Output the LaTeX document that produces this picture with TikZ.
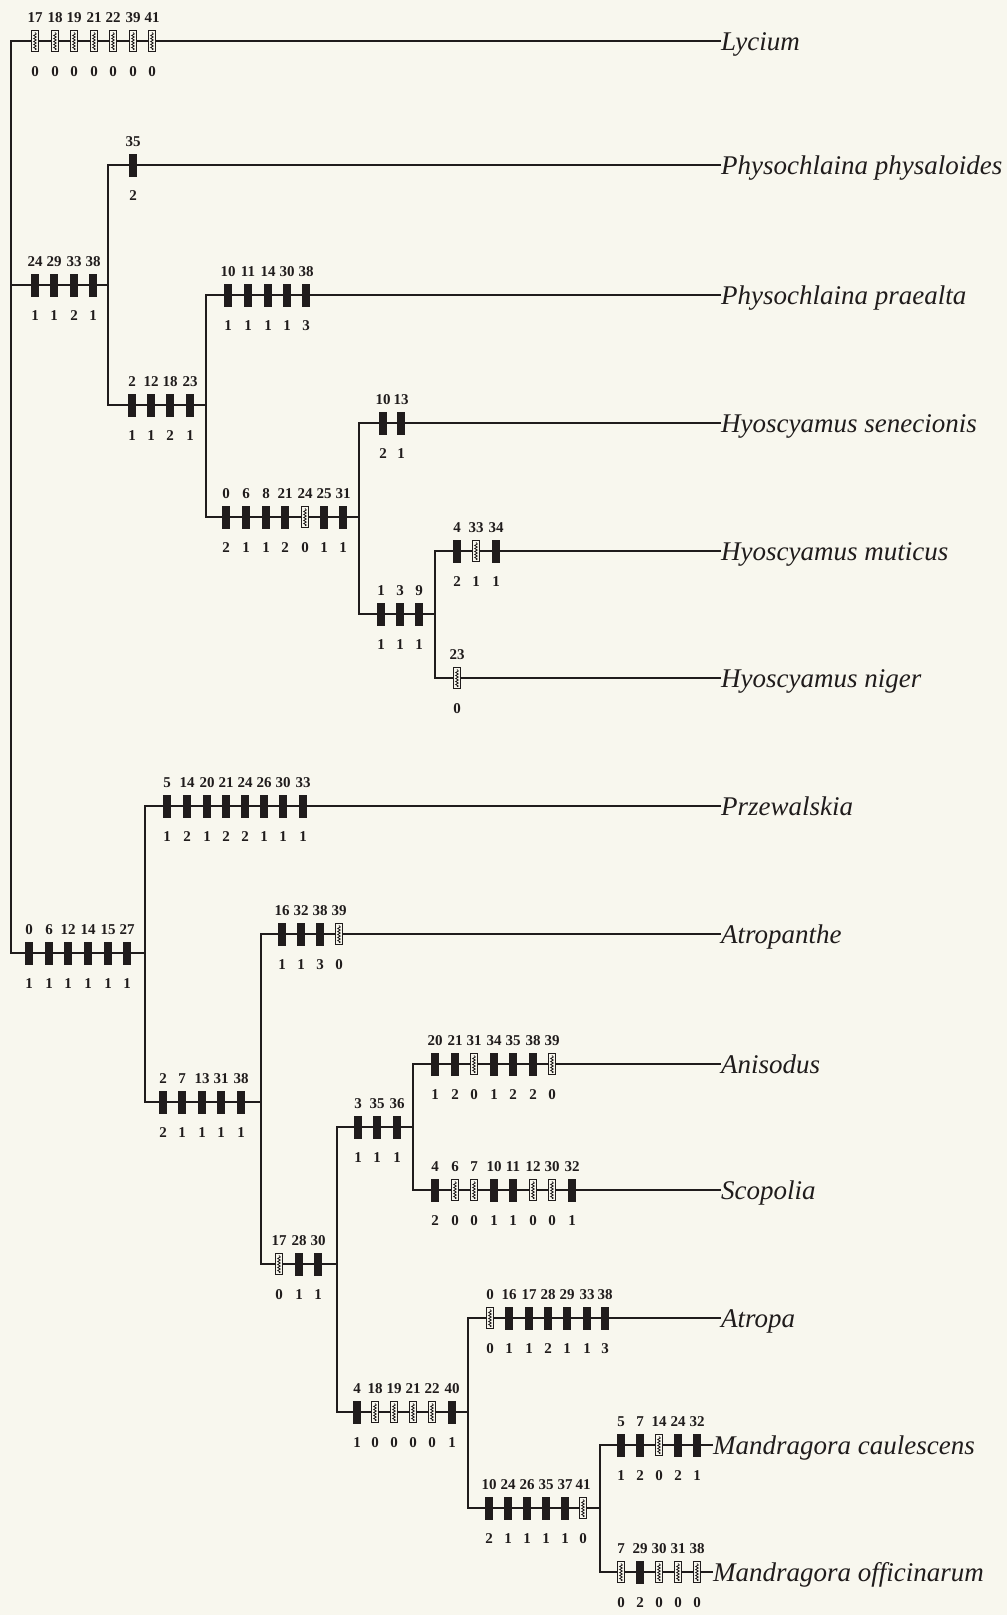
\documentclass[tikz,border=0pt]{standalone}
\usepackage{fontspec}
\setmainfont{Liberation Serif}
\definecolor{bgc}{RGB}{248,247,238}
\definecolor{inkc}{RGB}{32,28,28}
\newcommand\branchmarks[2]{\foreach \px/\pn/\ps/\pt in {#2} {\pic at (\px,#1) {mark={\pn}{\ps}{\pt}};}}
\tikzset{
  branch/.style={draw=inkc, line width=2.8pt, line join=miter},
  filledmark/.style={fill=inkc},
  hatchmark/.style={fill=bgc, draw=inkc, line width=1.1pt},
  squiggle/.style={draw=inkc, line width=0.8pt},
  charnum/.style={font=\fontsize{15}{15}\selectfont\bfseries, text=inkc, inner sep=0},
  statenum/.style={font=\fontsize{15}{15}\selectfont\bfseries, text=inkc, inner sep=0},
  taxon/.style={font=\fontsize{27}{27}\selectfont\itshape, text=inkc, anchor=west, inner sep=0, text height=19pt, text depth=1pt},
  pics/mark/.style n args={3}{code={
    \ifnum#3=1
      \fill[filledmark] (-3.75,-11.5) rectangle (3.75,11.5);
    \else
      \filldraw[hatchmark] (-3.4,-10.5) rectangle (3.4,10.5);
      \draw[squiggle] (0,-8.5) -- (1.3,-7) -- (-1.3,-5.5) -- (1.3,-4) -- (-1.3,-2.5) -- (1.3,-1) -- (-1.3,0.5) -- (1.3,2) -- (-1.3,3.5) -- (1.3,5) -- (-1.3,6.5) -- (1.3,8) -- (0,8.8);
    \fi
    \node[charnum] at (0,-23) {#1};
    \node[statenum] at (0,31) {#2};
  }}
}
\begin{document}
\begin{tikzpicture}[x=1pt,y=-1pt]
\fill[bgc] (0,0) rectangle (1007,1615);
\useasboundingbox (0,0) rectangle (1007,1615);
% taxa
\node[taxon] (lyc) at (721,41) {Lycium};
\node[taxon] (phys) at (721,165) {Physochlaina physaloides};
\node[taxon] (prae) at (721,295) {Physochlaina praealta};
\node[taxon] (sene) at (721,423) {Hyoscyamus senecionis};
\node[taxon] (muti) at (721,551) {Hyoscyamus muticus};
\node[taxon] (nige) at (721,678) {Hyoscyamus niger};
\node[taxon] (prze) at (721,806) {Przewalskia};
\node[taxon] (atth) at (721,934) {Atropanthe};
\node[taxon] (anis) at (721,1064) {Anisodus};
\node[taxon] (scop) at (721,1190) {Scopolia};
\node[taxon] (atro) at (721,1318) {Atropa};
\node[taxon] (mcau) at (713,1445) {Mandragora caulescens};
\node[taxon] (moff) at (713,1572) {Mandragora officinarum};
% internal nodes (x of vertical line, y of own branch)
\coordinate (R) at (11,41);
\coordinate (A) at (108,285);
\coordinate (A2) at (206,405);
\coordinate (A3) at (359,517);
\coordinate (A4) at (435,614);
\coordinate (B) at (145,953);
\coordinate (B2) at (261,1102);
\coordinate (B3) at (337,1264);
\coordinate (B4) at (413,1127);
\coordinate (B5) at (468,1412);
\coordinate (B6) at (600,1508);
% branches
\draw[branch] (lyc.west) -- (R |- lyc.west) -- (R |- B) -- (B);
\draw[branch] (R |- A) -- (A);
\draw[branch] (phys.west) -- (A |- phys.west) -- (A |- A2) -- (A2);
\draw[branch] (prae.west) -- (A2 |- prae.west) -- (A2 |- A3) -- (A3);
\draw[branch] (sene.west) -- (A3 |- sene.west) -- (A3 |- A4) -- (A4);
\draw[branch] (muti.west) -- (A4 |- muti.west) -- (A4 |- nige.west) -- (nige.west);
\draw[branch] (prze.west) -- (B |- prze.west) -- (B |- B2) -- (B2);
\draw[branch] (atth.west) -- (B2 |- atth.west) -- (B2 |- B3) -- (B3);
\draw[branch] (B4) -- (B3 |- B4) -- (B3 |- B5) -- (B5);
\draw[branch] (anis.west) -- (B4 |- anis.west) -- (B4 |- scop.west) -- (scop.west);
\draw[branch] (atro.west) -- (B5 |- atro.west) -- (B5 |- B6) -- (B6);
\draw[branch] (mcau.west) -- (B6 |- mcau.west) -- (B6 |- moff.west) -- (moff.west);
% character marks: x/character/state/type (1 filled, 0 reversal)
\branchmarks{41}{35/17/0/0, 55/18/0/0, 74/19/0/0, 94/21/0/0, 113/22/0/0, 133/39/0/0, 152/41/0/0}
\branchmarks{285}{35/24/1/1, 54/29/1/1, 74/33/2/1, 93/38/1/1}
\branchmarks{165}{133/35/2/1}
\branchmarks{405}{132/2/1/1, 151/12/1/1, 170/18/2/1, 190/23/1/1}
\branchmarks{295}{228/10/1/1, 248/11/1/1, 268/14/1/1, 287/30/1/1, 306/38/3/1}
\branchmarks{517}{226/0/2/1, 246/6/1/1, 266/8/1/1, 285/21/2/1, 305/24/0/0, 324/25/1/1, 343/31/1/1}
\branchmarks{423}{383/10/2/1, 401/13/1/1}
\branchmarks{614}{381/1/1/1, 400/3/1/1, 419/9/1/1}
\branchmarks{551}{457/4/2/1, 476/33/1/0, 496/34/1/1}
\branchmarks{678}{457/23/0/0}
\branchmarks{953}{29/0/1/1, 49/6/1/1, 68/12/1/1, 88/14/1/1, 108/15/1/1, 127/27/1/1}
\branchmarks{806}{167/5/1/1, 187/14/2/1, 207/20/1/1, 226/21/2/1, 245/24/2/1, 264/26/1/1, 283/30/1/1, 303/33/1/1}
\branchmarks{1102}{163/2/2/1, 182/7/1/1, 202/13/1/1, 221/31/1/1, 241/38/1/1}
\branchmarks{934}{282/16/1/1, 301/32/1/1, 320/38/3/1, 339/39/0/0}
\branchmarks{1264}{279/17/0/0, 299/28/1/1, 318/30/1/1}
\branchmarks{1127}{358/3/1/1, 377/35/1/1, 397/36/1/1}
\branchmarks{1064}{435/20/1/1, 455/21/2/1, 474/31/0/0, 494/34/1/1, 513/35/2/1, 533/38/2/1, 552/39/0/0}
\branchmarks{1190}{435/4/2/1, 455/6/0/0, 474/7/0/0, 494/10/1/1, 513/11/1/1, 533/12/0/0, 552/30/0/0, 572/32/1/1}
\branchmarks{1412}{357/4/1/1, 375/18/0/0, 394/19/0/0, 413/21/0/0, 432/22/0/0, 452/40/1/1}
\branchmarks{1318}{490/0/0/0, 509/16/1/1, 529/17/1/1, 548/28/2/1, 567/29/1/1, 587/33/1/1, 605/38/3/1}
\branchmarks{1508}{489/10/2/1, 508/24/1/1, 527/26/1/1, 546/35/1/1, 565/37/1/1, 583/41/0/0}
\branchmarks{1445}{621/5/1/1, 640/7/2/1, 659/14/0/0, 678/24/2/1, 697/32/1/1}
\branchmarks{1572}{621/7/0/0, 640/29/2/1, 659/30/0/0, 678/31/0/0, 697/38/0/0}
\end{tikzpicture}
\end{document}
